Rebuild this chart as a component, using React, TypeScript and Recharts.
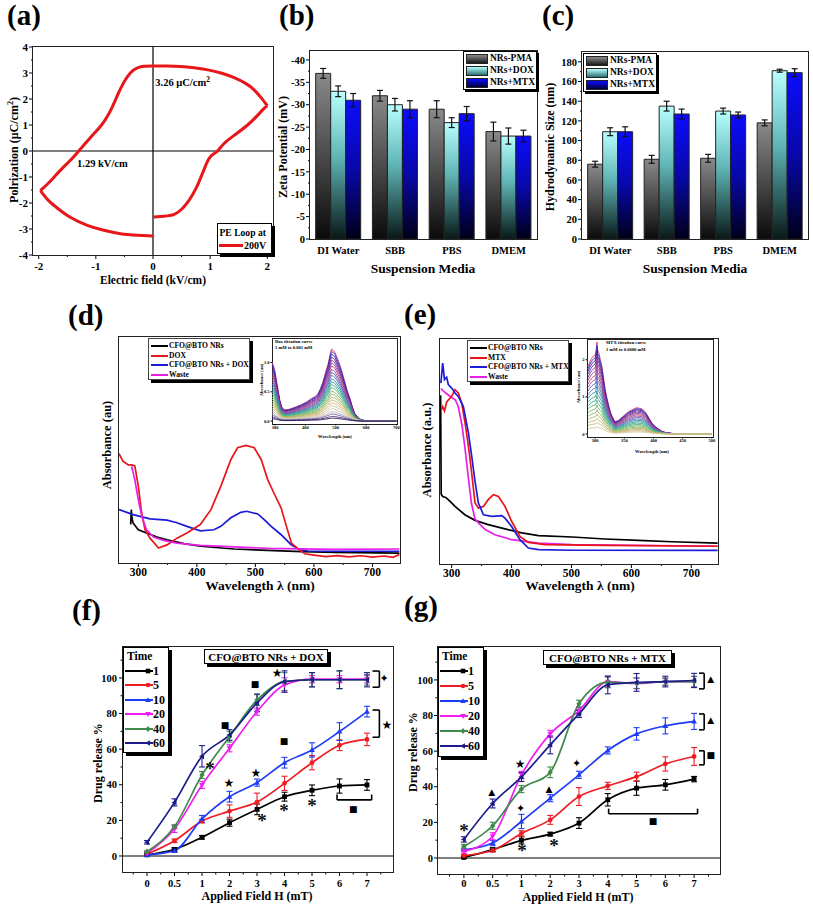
import React from 'react';
import {
  Bar,
  BarChart,
  ErrorBar,
  Line,
  LineChart,
  ReferenceDot,
  ReferenceLine,
  XAxis,
  YAxis,
} from 'recharts';

const SERIF = '"Liberation Serif", "Times New Roman", serif';
const SYM = '"DejaVu Sans", sans-serif';

// (a) P-E loop, [E kV/cm, P uC/cm2], split at the two sharp corners
const loopRise = [[0, -2.54], [0.19, -2.51], [0.37, -2.44], [0.51, -2.22], [0.63, -1.9], [0.75, -1.45], [0.84, -1.0], [0.91, -0.62], [0.98, -0.29], [1.07, -0.1], [1.13, 0], [1.24, 0.28], [1.42, 0.6], [1.65, 0.99], [1.83, 1.37], [1.94, 1.63], [2.0, 1.74]];
const loopTop = [[2.0, 1.74], [1.88, 2.08], [1.76, 2.37], [1.62, 2.6], [1.42, 2.82], [1.19, 3.0], [0.96, 3.12], [0.72, 3.2], [0.48, 3.25], [0.25, 3.27], [0, 3.27], [-0.16, 3.26], [-0.27, 3.2], [-0.36, 3.08], [-0.45, 2.85], [-0.52, 2.6], [-0.6, 2.25], [-0.68, 1.85], [-0.78, 1.4], [-0.9, 1.0], [-1.02, 0.7], [-1.14, 0.4], [-1.24, 0.15], [-1.3, 0], [-1.42, -0.3], [-1.58, -0.65], [-1.72, -0.98], [-1.85, -1.28], [-1.97, -1.52]];
const loopBottom = [[-1.97, -1.52], [-1.83, -1.9], [-1.66, -2.22], [-1.44, -2.56], [-1.15, -2.86], [-0.86, -3.05], [-0.57, -3.18], [-0.27, -3.24], [0, -3.27]];
const loopXTicks = [-2, -1.5, -1, -0.5, 0, 0.5, 1, 1.5, 2];
const loopYTicks = [-4, -3.5, -3, -2.5, -2, -1.5, -1, -0.5, 0, 0.5, 1, 1.5, 2, 2.5, 3, 3.5, 4];

// (b), (c) suspension media
const media = ['DI Water', 'SBB', 'PBS', 'DMEM'];
const zetaPMA = [-37, -32, -29, -24];
const zetaPMAErr = [1.1, 1.2, 1.9, 2.1];
const zetaDOX = [-33, -30, -26, -23];
const zetaDOXErr = [1.2, 1.4, 1.1, 1.8];
const zetaMTX = [-31, -29, -28, -23];
const zetaMTXErr = [1.5, 1.9, 1.6, 1.3];
const zetaTicks = [0, -2.5, -5, -7.5, -10, -12.5, -15, -17.5, -20, -22.5, -25, -27.5, -30, -32.5, -35, -37.5, -40];
const sizePMA = [76, 81, 82, 118];
const sizePMAErr = [3, 4, 4, 3];
const sizeDOX = [109, 135, 130, 171];
const sizeDOXErr = [4, 5, 3, 1.5];
const sizeMTX = [109, 127, 126, 169];
const sizeMTXErr = [5, 5, 3, 4];
const sizeTicks = [0, 10, 20, 30, 40, 50, 60, 70, 80, 90, 100, 110, 120, 130, 140, 150, 160, 170, 180];

// (d) spectra, [wavelength nm, absorbance au]
const dNRs = [[287, 0.17], [288, 0.236], [289, 0.2], [291, 0.177], [300, 0.147], [314, 0.133], [332, 0.115], [349, 0.103], [378, 0.086], [406, 0.074], [464, 0.062], [521, 0.056], [579, 0.05], [636, 0.047], [746, 0.044]];
const dDOX = [[267, 0.484], [274, 0.45], [283, 0.434], [289, 0.434], [294, 0.43], [300, 0.34], [305.7, 0.22], [311.5, 0.147], [320, 0.11], [334.5, 0.066], [349, 0.08], [366, 0.11], [383, 0.133], [406, 0.17], [424, 0.236], [441, 0.34], [458, 0.457], [469.5, 0.51], [484, 0.52], [498, 0.51], [510, 0.457], [521, 0.369], [533, 0.302], [544, 0.243], [553, 0.162], [561.5, 0.088], [573, 0.062], [584.5, 0.041], [600, 0.035], [620, 0.028], [640, 0.033], [660, 0.027], [680, 0.032], [700, 0.026], [720, 0.031], [735, 0.025], [746, 0.038]];
const dNRsDOX = [[267, 0.236], [291, 0.214], [320, 0.195], [349, 0.19], [366, 0.178], [383, 0.162], [406, 0.142], [429, 0.147], [441, 0.162], [458, 0.2], [475, 0.224], [485, 0.229], [504, 0.217], [515, 0.192], [527, 0.162], [544, 0.125], [561, 0.081], [576, 0.059], [590, 0.053], [636, 0.052], [746, 0.052]];
const dWaste = [[288.5, 0.428], [294, 0.369], [300, 0.28], [306, 0.206], [314, 0.147], [326, 0.115], [343, 0.1], [366, 0.088], [406, 0.078], [464, 0.071], [521, 0.065], [636, 0.06], [746, 0.062]];
// (d) inset: top titration curve and the peak heights of the dilution series
const doxTitrShape = [[290, 1.0], [295, 0.95], [300, 0.84], [305, 0.68], [311, 0.5], [316, 0.35], [322, 0.244], [328, 0.2], [333, 0.19], [345, 0.2], [355, 0.216], [370, 0.245], [388, 0.284], [405, 0.33], [420, 0.386], [432, 0.42], [442, 0.47], [450, 0.56], [458, 0.67], [466, 0.82], [475, 0.98], [482, 1.15], [486, 1.23], [492, 1.21], [497, 1.18], [505, 1.08], [514, 0.955], [522, 0.82], [530, 0.67], [538, 0.52], [547, 0.386], [555, 0.24], [563, 0.13], [572, 0.07], [580, 0.034], [596, 0.005], [620, 0], [700, 0]];
const doxTitrPeaks = [1.23, 1.19, 1.14, 1.09, 1.04, 0.99, 0.94, 0.88, 0.83, 0.78, 0.72, 0.67, 0.62, 0.57, 0.51, 0.46, 0.41, 0.36, 0.31, 0.26, 0.21, 0.16, 0.12, 0.08, 0.05];

// (e) spectra
const eNRs = [[281.5, 0.75], [282.5, 0.31], [285, 0.3], [290, 0.296], [297, 0.279], [305.6, 0.256], [322, 0.219], [339, 0.194], [361, 0.175], [389, 0.156], [417, 0.138], [445, 0.126], [501, 0.12], [556, 0.111], [612, 0.105], [668, 0.099], [744, 0.093]];
const eMTX = [[283, 0.686], [285, 0.7], [288, 0.68], [291.6, 0.72], [300, 0.745], [305.6, 0.775], [311, 0.76], [316.7, 0.716], [322.3, 0.627], [328, 0.523], [333.4, 0.404], [339, 0.271], [344.6, 0.249], [353, 0.256], [361, 0.286], [369.6, 0.308], [378, 0.3], [389, 0.256], [400, 0.19], [414, 0.123], [428, 0.096], [456, 0.086], [556, 0.083], [744, 0.079]];
const eNRsMTX = [[282, 0.804], [285, 0.893], [288, 0.82], [291.6, 0.83], [294.4, 0.797], [300, 0.782], [305.6, 0.76], [311, 0.745], [319.5, 0.7], [328, 0.582], [333.4, 0.479], [339, 0.367], [344.6, 0.271], [353, 0.219], [367, 0.212], [383.6, 0.215], [389, 0.204], [400, 0.167], [414, 0.108], [428, 0.071], [445, 0.064], [501, 0.061], [744, 0.061]];
const eWaste = [[282, 0.78], [290, 0.76], [300, 0.74], [306, 0.73], [311, 0.7], [317, 0.62], [322, 0.52], [328, 0.38], [333, 0.27], [339, 0.2], [345, 0.182], [356, 0.153], [372, 0.13], [400, 0.108], [445, 0.093], [501, 0.086], [744, 0.079]];
const mtxTitrShape = [[288, 1.83], [291, 1.95], [294, 2.04], [297, 2.1], [300, 2.13], [302, 2.3], [303, 2.48], [304.5, 2.25], [306, 2.2], [309, 2.0], [311.5, 1.83], [314, 1.55], [317, 1.22], [320, 0.98], [323, 0.78], [326, 0.6], [329, 0.48], [334, 0.33], [340, 0.37], [346, 0.45], [351, 0.52], [357, 0.6], [363, 0.65], [371, 0.71], [380, 0.68], [385, 0.61], [389, 0.52], [393, 0.41], [397, 0.3], [403, 0.2], [409, 0.13], [415, 0.07], [420, 0.043], [431, 0.017], [450, 0.005], [500, 0]];
const mtxTitrLevels = [2.13, 2.05, 1.97, 1.88, 1.78, 1.68, 1.57, 1.46, 1.35, 1.23, 1.12, 1.0, 0.89, 0.78, 0.67, 0.56, 0.46, 0.36, 0.27, 0.17];
const titrColors = ['#e8365a', '#2b2bd0', '#3a1f9e', '#5b2a9c', '#7b2f96', '#9a3a8a', '#b0407a', '#8d4aa8', '#6a5ab0', '#4a70b5', '#3a88a8', '#2f9c98', '#38a888', '#52b07a', '#6eb46c', '#8cb462', '#a8b45e', '#c0b46a', '#cdb87e', '#d6c29a', '#d0c4ae', '#b8b0c0', '#7060a0', '#503a80', '#2a1a50'];

// (f), (g) drug release vs applied field
const fieldLabels = ['0', '0.5', '1', '2', '3', '4', '5', '6', '7'];
const timeLabels = ['1', '5', '10', '20', '40', '60'];
const doxRelease = [
  [0.6, 3.7, 10.5, 18.7, 26.2, 33.3, 36.9, 39.3, 39.9],
  [1, 8.5, 19.6, 25.2, 30.3, 40.8, 52.4, 62.2, 65.5],
  [0.6, 3, 20.8, 33.3, 41.2, 52.4, 59.6, 69.9, 81.1],
  [1.5, 15.2, 39.9, 60.5, 81.1, 96.1, 99.3, 99.3, 99.3],
  [2.4, 16.5, 45.5, 67, 87.6, 98, 99, 99, 99],
  [7.7, 30.1, 56, 68, 86, 98, 99, 99, 99],
];
const doxReleaseErr = [
  [0.5, 1, 1, 2, 3, 2.5, 3, 4, 3],
  [0.5, 1, 1, 3.5, 5, 4, 4, 3, 3.5],
  [0.5, 1, 2, 3, 2, 3, 4, 5, 3],
  [0.5, 2, 2, 2, 2, 4, 2, 2, 2],
  [0.5, 1, 2, 3, 3, 5, 4, 5, 3],
  [1, 2, 6, 3, 5, 6, 4, 5, 4],
];
const mtxRelease = [
  [0.3, 4.7, 9.9, 13.4, 19.6, 32.7, 39.2, 41.1, 44.3],
  [1.4, 4.3, 13.8, 21.4, 34.5, 40.5, 45.7, 52.8, 57],
  [4.6, 8.4, 20.5, 33.6, 46.7, 60.4, 69.7, 74.2, 76.7],
  [3.7, 12.2, 46.7, 69.7, 82.8, 99, 98, 99, 99],
  [6.5, 18.1, 38.7, 48.1, 86.6, 98.6, 98.2, 99, 99],
  [10.4, 30.6, 45.5, 63.5, 80.9, 97.2, 98.6, 99.1, 99.7],
];
const mtxReleaseErr = [
  [0.5, 1, 2, 1, 3, 3.5, 4, 3, 1.5],
  [0.5, 1, 1.5, 2.5, 5, 2, 2.5, 4, 5],
  [0.5, 1.5, 4, 2, 2, 2, 3.5, 4.5, 4.5],
  [1, 2, 2, 2, 2, 3, 3, 2, 3],
  [1, 2, 2, 3, 2, 3, 3, 2, 3],
  [1.5, 2.5, 2.5, 5, 2, 5, 5, 3, 4],
];
// significance marks, x in field-index units
const doxMarks = [
  { x: 4.73, y: 103, s: '★' }, { x: 3.93, y: 96.6, s: '■' }, { x: 2.84, y: 73.6, s: '■' },
  { x: 4.98, y: 65, s: '■' }, { x: 2.98, y: 41, s: '★' }, { x: 3.96, y: 46.6, s: '★' },
  { x: 2.29, y: 49.4, s: '*' }, { x: 4.18, y: 20, s: '*' }, { x: 4.98, y: 26, s: '*' },
  { x: 6.0, y: 28.6, s: '*' }, { x: 7.5, y: 26.4, s: '■' }, { x: 8.62, y: 100, s: '✦' },
  { x: 8.72, y: 74, s: '★' },
];
const doxBrackets = [
  { kind: 'right', x: 8.45, stub: 8.2, y1: 103.9, y2: 94.8 },
  { kind: 'right', x: 8.45, stub: 8.2, y1: 82, y2: 66.7 },
  { kind: 'under', x1: 6.91, x2: 8.17, y: 31.5, tip: 34.5 },
];
const mtxMarks = [
  { x: 0, y: 15.7, s: '*' }, { x: 0.97, y: 37, s: '▲' }, { x: 1.95, y: 52.8, s: '★' },
  { x: 1.97, y: 28, s: '✦' }, { x: 2.02, y: 4.5, s: '*' }, { x: 2.96, y: 38.8, s: '▲' },
  { x: 3.13, y: 7.3, s: '*' }, { x: 3.92, y: 53.5, s: '✦' }, { x: 6.57, y: 20.8, s: '■' },
  { x: 8.58, y: 100.6, s: '▲' }, { x: 8.58, y: 77.5, s: '▲' }, { x: 8.58, y: 57.9, s: '■' },
];
const mtxBrackets = [
  { kind: 'right', x: 8.35, stub: 8.17, y1: 103.8, y2: 95 },
  { kind: 'right', x: 8.35, stub: 8.17, y1: 80.9, y2: 72 },
  { kind: 'right', x: 8.35, stub: 8.17, y1: 60.2, y2: 52.3 },
  { kind: 'under', x1: 5.03, x2: 8.12, y: 24.8, tip: 27.7 },
];

const RED = '#e8161b';
const timeColors = ['#000000', '#ee1d23', '#1f3cf5', '#f01ef0', '#3f8a4a', '#1c1c8a'];
const timeShapes = ['sq', 'ci', 'up', 'dn', 'di', 'lt'];

type Rect = { x0: number; y0: number; x1: number; y1: number };
const RA: Rect = { x0: 33, y0: 47, x1: 273, y1: 255 };
const RB: Rect = { x0: 310, y0: 51, x1: 537, y1: 239 };
const RC: Rect = { x0: 582, y0: 52, x1: 808, y1: 239 };
const RD: Rect = { x0: 119, y0: 337, x1: 400, y1: 563 };
const RDI: Rect = { x0: 272, y0: 338, x1: 397, y1: 424 };
const RE: Rect = { x0: 440, y0: 339, x1: 718, y1: 564 };
const REI: Rect = { x0: 587, y0: 339, x1: 713, y1: 437 };
const RF: Rect = { x0: 123, y0: 647, x1: 393, y1: 872 };
const RG: Rect = { x0: 438, y0: 647, x1: 720, y1: 874 };

const M = { top: 8, right: 5, bottom: 0, left: 0 };
const MI = { top: 4, right: 4, bottom: 0, left: 0 };

function geom(r: Rect, yW: number, xH: number, m = M) {
  return {
    style: { position: 'absolute' as const, left: r.x0 - yW - m.left, top: r.y0 - m.top },
    width: r.x1 - r.x0 + yW + m.left + m.right,
    height: r.y1 - r.y0 + xH + m.top + m.bottom,
  };
}

const pts = (a: number[][]) => a.map(([x, y]) => ({ x, y }));
const scaled = (a: number[][], top: number, k: number) => a.map(([x, y]) => ({ x, y: (y * k) / top }));

function tick(side: 'l' | 'b', fs: number, isMajor: (v: any) => boolean, fmt: (v: any) => string, len: number, minorLen: number, gap: number) {
  return (p: any) => {
    const v = p.payload ? p.payload.value : '';
    const major = isMajor(v);
    const L = major ? len : minorLen;
    const st = { fontSize: fs, fontWeight: 700, fontFamily: SERIF, fill: '#000' };
    if (side === 'l') {
      return (
        <g>
          {L > 0 && <line x1={p.x} y1={p.y} x2={p.x - L} y2={p.y} stroke="#000" strokeWidth={1} />}
          {major && (
            <text x={p.x - L - gap} y={p.y + fs * 0.35} textAnchor="end" {...st}>
              {fmt(v)}
            </text>
          )}
        </g>
      );
    }
    return (
      <g>
        {L > 0 && <line x1={p.x} y1={p.y} x2={p.x} y2={p.y + L} stroke="#000" strokeWidth={1} />}
        {major && (
          <text x={p.x} y={p.y + L + gap + fs * 0.72} textAnchor="middle" {...st}>
            {fmt(v)}
          </text>
        )}
      </g>
    );
  };
}

const isInt = (v: number) => Number.isInteger(v);
const axisBase = { tickLine: false, axisLine: false, tickSize: 0, tickMargin: 0, interval: 0 as const, allowDataOverflow: true };

function Frame({ r, w = 1.4, bg }: { r: Rect; w?: number; bg?: string }) {
  return (
    <div
      style={{
        position: 'absolute',
        left: r.x0 - w / 2,
        top: r.y0 - w / 2,
        width: r.x1 - r.x0 + w,
        height: r.y1 - r.y0 + w,
        border: `${w}px solid #222`,
        boxSizing: 'border-box',
        background: bg,
        pointerEvents: 'none',
      }}
    />
  );
}

function T({ x, y, size, rot, anchor = 'c', children, weight = 700 }: any) {
  const tx = anchor === 'c' ? '-50%' : anchor === 'l' ? '0' : '-100%';
  return (
    <div
      style={{
        position: 'absolute',
        left: x,
        top: y,
        transform: `translate(${tx},-50%)${rot ? ` rotate(${rot}deg)` : ''}`,
        fontSize: size,
        fontWeight: weight,
        fontFamily: SERIF,
        whiteSpace: 'nowrap',
        lineHeight: 1,
        color: '#000',
      }}
    >
      {children}
    </div>
  );
}

function PanelLabel({ x, y, text }: { x: number; y: number; text: string }) {
  return (
    <div style={{ position: 'absolute', left: x, top: y, fontSize: 29, fontWeight: 700, fontFamily: SERIF, lineHeight: 1 }}>
      {text}
    </div>
  );
}

function marker(s: string, x: number, y: number, r: number, c: string) {
  switch (s) {
    case 'sq':
      return <rect x={x - r} y={y - r} width={2 * r} height={2 * r} fill={c} />;
    case 'ci':
      return <circle cx={x} cy={y} r={r} fill={c} />;
    case 'up':
      return <polygon points={`${x},${y - r * 1.25} ${x - r * 1.2},${y + r * 0.85} ${x + r * 1.2},${y + r * 0.85}`} fill={c} />;
    case 'dn':
      return <polygon points={`${x},${y + r * 1.25} ${x - r * 1.2},${y - r * 0.85} ${x + r * 1.2},${y - r * 0.85}`} fill={c} />;
    case 'di':
      return <polygon points={`${x},${y - r * 1.3} ${x + r * 1.1},${y} ${x},${y + r * 1.3} ${x - r * 1.1},${y}`} fill={c} />;
    default:
      return <polygon points={`${x - r * 1.25},${y} ${x + r * 0.85},${y - r * 1.2} ${x + r * 0.85},${y + r * 1.2}`} fill={c} />;
  }
}

function Gradients() {
  return (
    <svg width={0} height={0} style={{ position: 'absolute' }}>
      <defs>
        <linearGradient id="gPMA" x1="0" y1="0" x2="0" y2="1">
          <stop offset="0" stopColor="#8a8a8a" />
          <stop offset="0.5" stopColor="#4a4a4a" />
          <stop offset="1" stopColor="#0a0a0a" />
        </linearGradient>
        <linearGradient id="gDOX" x1="0" y1="0" x2="0" y2="1">
          <stop offset="0" stopColor="#b8ffff" />
          <stop offset="0.45" stopColor="#5fb4b4" />
          <stop offset="1" stopColor="#081818" />
        </linearGradient>
        <linearGradient id="gMTX" x1="0" y1="0" x2="0" y2="1">
          <stop offset="0" stopColor="#0c0cff" />
          <stop offset="0.5" stopColor="#0808a8" />
          <stop offset="1" stopColor="#000018" />
        </linearGradient>
      </defs>
    </svg>
  );
}

function PanelA() {
  const g = geom(RA, 30, 24);
  const lines = [loopRise, loopTop, loopBottom];
  return (
    <>
      <div style={g.style}>
        <LineChart width={g.width} height={g.height} margin={M}>
          <XAxis type="number" dataKey="x" domain={[-2.1, 2.1]} ticks={loopXTicks} height={24} {...axisBase} tick={tick('b', 11, isInt, String, 4, 2, 3.5)} />
          <YAxis type="number" domain={[-4, 4]} ticks={loopYTicks} width={30} {...axisBase} tick={tick('l', 11, isInt, String, 4, 2, 1)} />
          <ReferenceLine x={0} stroke="#000" strokeWidth={1.2} />
          <ReferenceLine y={0} stroke="#000" strokeWidth={1.2} />
          {lines.map((l, i) => (
            <Line key={i} data={pts(l)} dataKey="y" type="natural" stroke={RED} strokeWidth={3} dot={false} isAnimationActive={false} />
          ))}
          <ReferenceDot
            x={0.04}
            y={2.5}
            ifOverflow="visible"
            shape={(p: any) => (
              <text x={p.cx} y={p.cy} fontSize={10.5} fontWeight={700} fontFamily={SERIF}>
                3.26 μC/cm<tspan dy={-4} fontSize={7.5}>2</tspan>
              </text>
            )}
          />
          <ReferenceDot
            x={-1.33}
            y={-0.62}
            ifOverflow="visible"
            shape={(p: any) => (
              <text x={p.cx} y={p.cy} fontSize={10.5} fontWeight={700} fontFamily={SERIF}>
                1.29 kV/cm
              </text>
            )}
          />
        </LineChart>
      </div>
      <Frame r={RA} />
      <div style={{ position: 'absolute', left: 217, top: 223, width: 55, height: 31, border: '1px solid #000', background: '#fff', boxShadow: '3px 3px 0 #000', boxSizing: 'border-box' }}>
        <T x={1.5} y={9} size={9.6} anchor="l">PE Loop at</T>
        <div style={{ position: 'absolute', left: 1, top: 20, width: 24, height: 3, background: RED }} />
        <T x={26} y={22} size={10} anchor="l">200V</T>
      </div>
      <PanelLabel x={7} y={1} text="(a)" />
      <T x={13} y={150} size={12} rot={-90}>
        Polrization (μC/cm<sup style={{ fontSize: 8 }}>2</sup>)
      </T>
      <T x={153} y={281} size={11.5}>Electric field (kV/cm)</T>
    </>
  );
}

const barSeries = [
  { key: 'pma', err: 'pmaErr', fill: 'url(#gPMA)', css: 'linear-gradient(#8a8a8a, #1a1a1a)', name: 'NRs-PMA' },
  { key: 'dox', err: 'doxErr', fill: 'url(#gDOX)', css: 'linear-gradient(#b8ffff, #2a7070)', name: 'NRs+DOX' },
  { key: 'mtx', err: 'mtxErr', fill: 'url(#gMTX)', css: 'linear-gradient(#0c0cff, #00003a)', name: 'NRs+MTX' },
];

function BarLegend({ x, y }: { x: number; y: number }) {
  return (
    <div style={{ position: 'absolute', left: x, top: y, width: 74, height: 39, border: '1px solid #000', background: '#fff', boxShadow: '2px 2px 0 #000', boxSizing: 'border-box' }}>
      {barSeries.map((s, i) => (
        <React.Fragment key={s.key}>
          <div style={{ position: 'absolute', left: 2, top: 1.5 + i * 12, width: 22, height: 10.5, background: s.css, border: '1px solid #222', boxSizing: 'border-box' }} />
          <T x={26} y={7 + i * 12} size={9.5} anchor="l">{s.name}</T>
        </React.Fragment>
      ))}
    </div>
  );
}

function BarPanel({ r, rows, domain, ticks, major, reversed, yW }: any) {
  const g = geom(r, yW, 22);
  return (
    <>
      <div style={g.style}>
        <BarChart width={g.width} height={g.height} margin={M} data={rows} barCategoryGap="10%" barGap={0}>
          <XAxis dataKey="media" height={22} tickLine={false} axisLine={false} tickSize={0} tickMargin={0} interval={0} tick={tick('b', 10.5, () => true, (v) => v, 0, 0, 7)} />
          <YAxis type="number" domain={domain} reversed={reversed} ticks={ticks} width={yW} {...axisBase} tick={tick('l', 10.5, major, String, 4, 2, 1)} />
          {barSeries.map((s) => (
            <Bar key={s.key} dataKey={s.key} fill={s.fill} stroke="#222" strokeWidth={1} isAnimationActive={false}>
              <ErrorBar dataKey={s.err} width={3} stroke="#111" strokeWidth={1.2} direction="y" />
            </Bar>
          ))}
        </BarChart>
      </div>
      <Frame r={r} />
    </>
  );
}

function PanelB() {
  const rows = media.map((m, i) => ({ media: m, pma: zetaPMA[i], pmaErr: zetaPMAErr[i], dox: zetaDOX[i], doxErr: zetaDOXErr[i], mtx: zetaMTX[i], mtxErr: zetaMTXErr[i] }));
  return (
    <>
      <BarPanel r={RB} rows={rows} domain={[-42, 0]} reversed ticks={zetaTicks} major={(v: number) => v % 5 === 0} yW={38} />
      <BarLegend x={463} y={51} />
      <PanelLabel x={279} y={1} text="(b)" />
      <T x={283} y={147} size={12} rot={-90}>Zeta Potential (mV)</T>
      <T x={423} y={269} size={13.5}>Suspension Media</T>
    </>
  );
}

function PanelC() {
  const rows = media.map((m, i) => ({ media: m, pma: sizePMA[i], pmaErr: sizePMAErr[i], dox: sizeDOX[i], doxErr: sizeDOXErr[i], mtx: sizeMTX[i], mtxErr: sizeMTXErr[i] }));
  return (
    <>
      <BarPanel r={RC} rows={rows} domain={[0, 190]} reversed={false} ticks={sizeTicks} major={(v: number) => v % 20 === 0} yW={36} />
      <BarLegend x={583} y={53} />
      <PanelLabel x={542} y={1} text="(c)" />
      <T x={550} y={147} size={12} rot={-90}>Hydrodynamic Size (nm)</T>
      <T x={695} y={269} size={13.5}>Suspension Media</T>
    </>
  );
}

function SpecLegend({ x, y, items }: { x: number; y: number; items: { name: string; c: string }[] }) {
  return (
    <div style={{ position: 'absolute', left: x, top: y, width: 102, height: 42, border: '1px solid #444', background: '#fff', boxShadow: '3px 3px 0 #000', boxSizing: 'border-box' }}>
      {items.map((it, i) => (
        <React.Fragment key={it.name}>
          <div style={{ position: 'absolute', left: 2, top: 6 + i * 9.6, width: 17, height: 2, background: it.c }} />
          <T x={20} y={7 + i * 9.6} size={7.6} anchor="l">{it.name}</T>
        </React.Fragment>
      ))}
    </div>
  );
}

function SpecChart({ r, domain, ticks, series }: any) {
  const g = geom(r, 0, 20);
  return (
    <div style={g.style}>
      <LineChart width={g.width} height={g.height} margin={M}>
        <XAxis type="number" dataKey="x" domain={domain} ticks={ticks} height={20} {...axisBase} tick={tick('b', 11.5, (v: number) => v % 100 === 0, String, 4, 2, 1)} />
        <YAxis type="number" domain={[0, 1]} hide allowDataOverflow />
        {series.map((s: any) => (
          <Line key={s.c} data={pts(s.d)} dataKey="y" type="linear" stroke={s.c} strokeWidth={1.7} dot={false} isAnimationActive={false} />
        ))}
      </LineChart>
    </div>
  );
}

function Inset({ r, xDomain, yDomain, xTicks, yTicks, yFmt, shape, levels, top, yW }: any) {
  const g = geom(r, yW, 9, MI);
  return (
    <>
      <Frame r={r} w={1} bg="#fff" />
      <div style={g.style}>
        <LineChart width={g.width} height={g.height} margin={MI}>
          <XAxis type="number" dataKey="x" domain={xDomain} ticks={xTicks} height={9} {...axisBase} tick={tick('b', 4.5, () => true, String, 1.5, 1, 0.5)} />
          <YAxis type="number" domain={yDomain} ticks={yTicks} width={yW} {...axisBase} tick={tick('l', 4.5, () => true, yFmt, 1.5, 1, 1)} />
          {levels.map((l: number, i: number) => (
            <Line key={i} data={scaled(shape, top, l)} dataKey="y" type="linear" stroke={titrColors[i % titrColors.length]} strokeWidth={0.9} dot={false} isAnimationActive={false} />
          ))}
        </LineChart>
      </div>
    </>
  );
}

function PanelD() {
  const series = [
    { d: dNRs, c: '#000000' },
    { d: dNRsDOX, c: '#1b1bd9' },
    { d: dDOX, c: RED },
    { d: dWaste, c: '#e81ee8' },
  ];
  return (
    <>
      <SpecChart r={RD} domain={[267, 747]} ticks={[300, 350, 400, 450, 500, 550, 600, 650, 700]} series={series} />
      <Frame r={RD} />
      <Inset r={RDI} xDomain={[290, 702]} yDomain={[-0.05, 1.42]} xTicks={[300, 400, 500, 600, 700]} yTicks={[0, 0.5, 1]} yFmt={(v: number) => v.toFixed(1)} shape={doxTitrShape} levels={doxTitrPeaks} top={1.23} yW={9} />
      <T x={275} y={342} size={4.6} anchor="l">Dox titration curve</T>
      <T x={275} y={348} size={4.6} anchor="l">1 mM to 0.001 mM</T>
      <T x={335} y={437} size={4.6}>Wavelength (nm)</T>
      <T x={262} y={380} size={4.6} rot={-90}>Absorbance (au)</T>
      <SpecLegend x={148} y={338} items={[{ name: 'CFO@BTO NRs', c: '#000' }, { name: 'DOX', c: RED }, { name: 'CFO@BTO NRs + DOX', c: '#1b1bd9' }, { name: 'Waste', c: '#e81ee8' }]} />
      <PanelLabel x={68} y={301} text="(d)" />
      <T x={107} y={445} size={12.5} rot={-90}>Absorbance (au)</T>
      <T x={260} y={586} size={13.5}>Wavelength λ (nm)</T>
    </>
  );
}

function PanelE() {
  const series = [
    { d: eNRs, c: '#000000' },
    { d: eWaste, c: '#e81ee8' },
    { d: eMTX, c: RED },
    { d: eNRsMTX, c: '#1b1bd9' },
  ];
  return (
    <>
      <SpecChart r={RE} domain={[280.5, 744.6]} ticks={[300, 350, 400, 450, 500, 550, 600, 650, 700]} series={series} />
      <Frame r={RE} />
      <Inset r={REI} xDomain={[286, 502]} yDomain={[-0.08, 2.56]} xTicks={[300, 350, 400, 450, 500]} yTicks={[0, 1, 2]} yFmt={String} shape={mtxTitrShape} levels={mtxTitrLevels} top={2.13} yW={6} />
      <T x={606} y={343} size={4.6} anchor="l">MTX titration curve</T>
      <T x={606} y={350} size={4.6} anchor="l">1 mM to 0.0080 mM</T>
      <T x={652} y={452} size={4.6}>Wavelength (nm)</T>
      <T x={579} y={387} size={4.6} rot={-90}>Absorbance (au)</T>
      <SpecLegend x={467} y={340} items={[{ name: 'CFO@BTO NRs', c: '#000' }, { name: 'MTX', c: RED }, { name: 'CFO@BTO NRs + MTX', c: '#1b1bd9' }, { name: 'Waste', c: '#e81ee8' }]} />
      <PanelLabel x={404} y={300} text="(e)" />
      <T x={427} y={450} size={12.5} rot={-90}>Absorbance (a.u.)</T>
      <T x={580} y={586} size={13.5}>Wavelength λ (nm)</T>
    </>
  );
}

function symShape(s: string) {
  return (p: any) => {
    if (s === '*') {
      return (
        <text x={p.cx} y={p.cy + 7} textAnchor="middle" fontSize={19} fontWeight={700} fontFamily={SERIF} fill="#111">
          *
        </text>
      );
    }
    const fs = s === '★' ? 12 : s === '✦' ? 11 : 9;
    return (
      <text x={p.cx} y={p.cy + fs * 0.36} textAnchor="middle" fontSize={fs} fontFamily={SYM} fill="#000">
        {s}
      </text>
    );
  };
}

function bracketSegs(b: any) {
  if (b.kind === 'right') {
    return [
      [b.stub, b.y1, b.x, b.y1],
      [b.x, b.y1, b.x, b.y2],
      [b.x, b.y2, b.stub, b.y2],
    ];
  }
  return [
    [b.x1, b.tip, b.x1, b.y],
    [b.x1, b.y, b.x2, b.y],
    [b.x2, b.y, b.x2, b.tip],
  ];
}

function TimeLegend({ x, y, h, step }: { x: number; y: number; h: number; step: number }) {
  return (
    <div style={{ position: 'absolute', left: x, top: y, width: 46, height: h, border: '1px solid #000', background: '#fff', boxShadow: '3px 3px 0 #000', boxSizing: 'border-box' }}>
      <T x={3} y={9} size={11.5} anchor="l">Time</T>
      {timeLabels.map((t, i) => (
        <React.Fragment key={t}>
          <svg width={28} height={10} style={{ position: 'absolute', left: 1, top: 18 + i * step }}>
            <line x1={0} y1={5} x2={28} y2={5} stroke={timeColors[i]} strokeWidth={2} />
            {marker(timeShapes[i], 23, 5, 2.3, timeColors[i])}
          </svg>
          <T x={29} y={23 + i * step} size={12} anchor="l">{t}</T>
        </React.Fragment>
      ))}
    </div>
  );
}

function ReleasePanel({ r, vals, errs, domain, yDomain, marks, brackets, yGap, xGap }: any) {
  const g = geom(r, 30, 22);
  const rows = fieldLabels.map((f, i) => {
    const row: any = { idx: i, field: f };
    vals.forEach((s: number[], k: number) => {
      row[`v${k}`] = s[i];
      row[`e${k}`] = errs[k][i];
    });
    return row;
  });
  const xt = [-0.5, 0, 0.5, 1, 1.5, 2, 2.5, 3, 3.5, 4, 4.5, 5, 5.5, 6, 6.5, 7, 7.5, 8, 8.5];
  const yt = [0, 10, 20, 30, 40, 50, 60, 70, 80, 90, 100, 110];
  return (
    <>
      <div style={g.style}>
        <LineChart width={g.width} height={g.height} margin={M} data={rows}>
          <XAxis type="number" dataKey="idx" domain={domain} ticks={xt} height={22} {...axisBase} tick={tick('b', 10.5, isInt, (v: number) => fieldLabels[v], 4, 2.5, xGap)} />
          <YAxis type="number" domain={yDomain} ticks={yt} width={30} {...axisBase} tick={tick('l', 10.5, (v: number) => v % 20 === 0, String, 4, 2.5, yGap)} />
          <ReferenceLine y={0} stroke="#000" strokeWidth={1.2} />
          {timeLabels.map((t, k) => (
            <Line
              key={t}
              dataKey={`v${k}`}
              type="monotone"
              stroke={timeColors[k]}
              strokeWidth={1.7}
              isAnimationActive={false}
              dot={(p: any) => <g key={`${t}-${p.index}`}>{marker(timeShapes[k], p.cx, p.cy, 2.4, timeColors[k])}</g>}
            >
              <ErrorBar dataKey={`e${k}`} width={3} stroke={timeColors[k]} strokeWidth={1.1} direction="y" />
            </Line>
          ))}
          {marks.map((m: any, i: number) => (
            <ReferenceDot key={`m${i}`} x={m.x} y={m.y} ifOverflow="visible" shape={symShape(m.s)} />
          ))}
          {brackets.flatMap((b: any, i: number) =>
            bracketSegs(b).map((s, j) => (
              <ReferenceLine key={`b${i}-${j}`} segment={[{ x: s[0], y: s[1] }, { x: s[2], y: s[3] }]} stroke="#000" strokeWidth={1.6} ifOverflow="visible" />
            )),
          )}
        </LineChart>
      </div>
      <Frame r={r} w={1.6} />
    </>
  );
}

function TitleBox({ x, y, w, text }: { x: number; y: number; w: number; text: string }) {
  return (
    <div style={{ position: 'absolute', left: x, top: y, width: w, height: 15, border: '1px solid #000', background: '#fff', boxShadow: '3px 3px 0 #000', boxSizing: 'border-box' }}>
      <T x={w / 2 - 1} y={7} size={11}>{text}</T>
    </div>
  );
}

function PanelF() {
  return (
    <>
      <ReleasePanel r={RF} vals={doxRelease} errs={doxReleaseErr} domain={[-0.873, 8.945]} yDomain={[-9, 117.4]} marks={doxMarks} brackets={doxBrackets} yGap={2} xGap={3.4} />
      <TimeLegend x={123} y={647} h={106} step={14.4} />
      <TitleBox x={204} y={649} w={124} text="CFO@BTO NRs + DOX" />
      <PanelLabel x={72} y={596} text="(f)" />
      <T x={98} y={763} size={12} rot={-90}>Drug release %</T>
      <T x={257} y={896} size={12}>Applied Field H (mT)</T>
    </>
  );
}

function PanelG() {
  return (
    <>
      <ReleasePanel r={RG} vals={mtxRelease} errs={mtxReleaseErr} domain={[-0.9, 8.9]} yDomain={[-9, 118.5]} marks={mtxMarks} brackets={mtxBrackets} yGap={1} xGap={1.4} />
      <TimeLegend x={438} y={647} h={110} step={15} />
      <TitleBox x={543} y={650} w={129} text="CFO@BTO NRs + MTX" />
      <PanelLabel x={404} y={592} text="(g)" />
      <T x={413} y={752} size={12} rot={-90}>Drug release %</T>
      <T x={578} y={897} size={12}>Applied Field H (mT)</T>
    </>
  );
}

export default function App() {
  return (
    <div style={{ position: 'absolute', left: 0, top: 0, width: 813, height: 906, background: '#fff', overflow: 'hidden', fontFamily: SERIF }}>
      <Gradients />
      <PanelA />
      <PanelB />
      <PanelC />
      <PanelD />
      <PanelE />
      <PanelF />
      <PanelG />
    </div>
  );
}
